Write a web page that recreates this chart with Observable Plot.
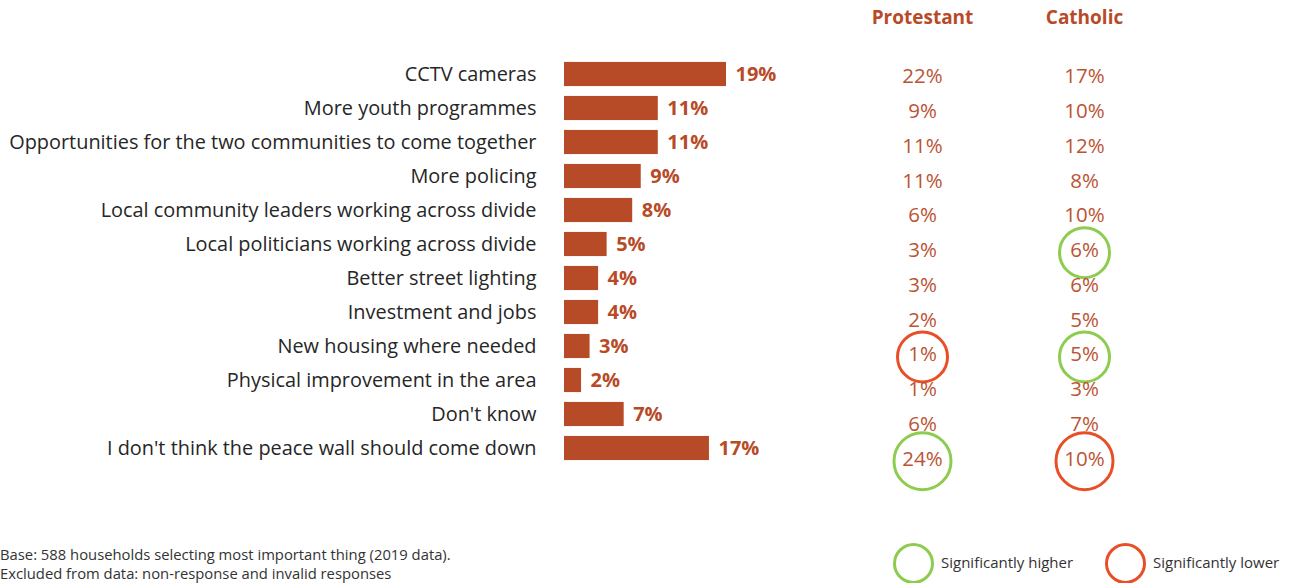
<!DOCTYPE html>
<html>
<head>
<meta charset="utf-8">
<script src="https://cdn.jsdelivr.net/npm/d3@7"></script>
<script src="https://cdn.jsdelivr.net/npm/@observablehq/plot@0.6"></script>
<style>
  html, body { margin: 0; padding: 0; background: #fff; }
  #wrap { position: relative; width: 1290px; height: 583px; font-family: "Open Sans", sans-serif; overflow: hidden; }
  #left { position: absolute; left: 0; top: 0; }
  #right { position: absolute; left: 850px; top: 0; }
  #foot { position: absolute; left: 0; top: 545px; font-size: 14.8px; line-height: 19px; color: #333; }
  .leg { position: absolute; top: 543px; display: flex; align-items: center; font-size: 15px; color: #333; }
  .leg span.c { display: inline-block; width: 35px; height: 35px; border-radius: 50%; border: 3px solid; margin-right: 7px; }
  .leg span.t { position: relative; top: -2px; }
</style>
</head>
<body>
<div id="wrap">
  <div id="left"></div>
  <div id="right"></div>
  <div id="foot"></div>
  <div id="legend"></div>
</div>
<script>
const categories = [
  "CCTV cameras",
  "More youth programmes",
  "Opportunities for the two communities to come together",
  "More policing",
  "Local community leaders working across divide",
  "Local politicians working across divide",
  "Better street lighting",
  "Investment and jobs",
  "New housing where needed",
  "Physical improvement in the area",
  "Don't know",
  "I don't think the peace wall should come down"
];
const overall    = [19, 11, 11, 9, 8, 5, 4, 4, 3, 2, 7, 17];
const protestant = [22, 9, 11, 11, 6, 3, 3, 2, 1, 1, 6, 24];
const catholic   = [17, 10, 12, 8, 10, 6, 6, 5, 5, 3, 7, 10];
const protestantSig = [null, null, null, null, null, null, null, null, "lower", null, null, "higher"];
const catholicSig   = [null, null, null, null, null, "higher", null, null, "higher", null, null, "lower"];
const groups = ["Protestant", "Catholic"];
const legendLabels = {higher: "Significantly higher", lower: "Significantly lower"};
const footnotes = [
  "Base: 588 households selecting most important thing (2019 data).",
  "Excluded from data: non-response and invalid responses"
];

const barColor = "#b84b27";
const sigColor = {higher: "#8dcc4f", lower: "#e84f26"};

const bars = categories.map((c, i) => ({category: c, value: overall[i]}));

const left = Plot.plot({
  width: 860,
  height: 500,
  marginLeft: 564,
  marginRight: 134,
  marginTop: 57,
  marginBottom: 35,
  style: {fontFamily: "Open Sans, sans-serif", fontSize: "19.9px", color: "#262626", background: "transparent"},
  x: {domain: [0, 19], axis: null},
  y: {type: "band", domain: categories, paddingInner: 0.29, paddingOuter: 0.145, round: false, label: null},
  marks: [
    Plot.barX(bars, {x: "value", y: "category", fill: barColor}),
    Plot.text(bars, {x: "value", y: "category", text: d => d.value + "%", textAnchor: "start", dx: 9, fill: barColor, fontWeight: "bold", fontSize: 20}),
    Plot.axisY({tickSize: 0, tickPadding: 28, fontSize: 19.9, fill: "#262626", label: null})
  ]
});
document.getElementById("left").appendChild(left);

const cols = [];
categories.forEach((c, i) => {
  cols.push({category: c, group: "Protestant", value: protestant[i], sig: protestantSig[i]});
  cols.push({category: c, group: "Catholic", value: catholic[i], sig: catholicSig[i]});
});
const sigs = cols.filter(d => d.sig);

const right = Plot.plot({
  width: 440,
  height: 500,
  marginLeft: 72,
  marginRight: 206,
  marginTop: 59,
  marginBottom: 24,
  style: {fontFamily: "Open Sans, sans-serif", background: "transparent"},
  x: {type: "point", domain: groups, padding: 0, axis: null},
  y: {type: "band", domain: categories, padding: 0, round: false, axis: null},
  r: {type: "identity"},
  marks: [
    Plot.dot(sigs, {x: "group", y: "category", r: d => (d.value + "%").length >= 3 ? 28.5 : 25, stroke: d => sigColor[d.sig], strokeWidth: 3, fill: "none", dy: 2}),
    Plot.text(cols, {x: "group", y: "category", text: d => d.value + "%", fill: "#bb5434", fontSize: 20.5}),
    Plot.axisX({anchor: "top", tickSize: 0, tickPadding: 36, fontSize: 19, fontWeight: "bold", fill: barColor, label: null})
  ]
});
document.getElementById("right").appendChild(right);

document.getElementById("foot").innerHTML = footnotes.map(t => `<div>${t}</div>`).join("");

const legend = document.getElementById("legend");
[["higher", 893], ["lower", 1105]].forEach(([k, x]) => {
  const el = document.createElement("div");
  el.className = "leg";
  el.style.left = x + "px";
  el.innerHTML = `<span class="c" style="border-color:${sigColor[k]}"></span><span class="t">${legendLabels[k]}</span>`;
  legend.appendChild(el);
});
</script>
</body>
</html>
